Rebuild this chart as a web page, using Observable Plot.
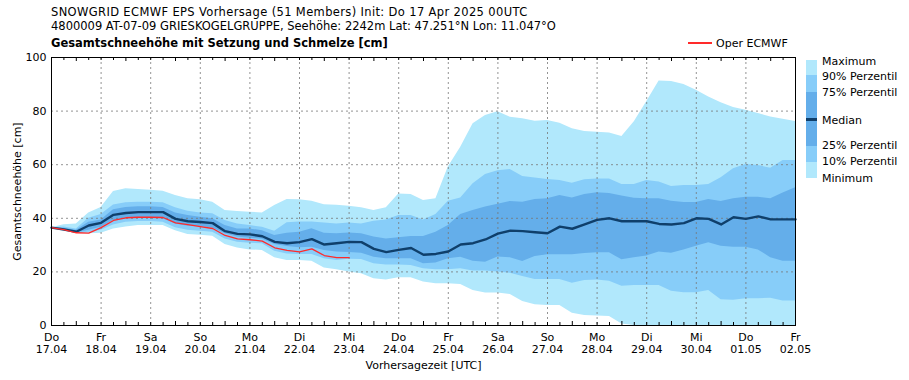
<!DOCTYPE html>
<html>
<head>
<meta charset="utf-8">
<script src="https://cdn.jsdelivr.net/npm/d3@7"></script>
<script src="https://cdn.jsdelivr.net/npm/@observablehq/plot@0.6"></script>
<style>
  body { margin: 0; background: #fff; }
  #wrap { position: relative; width: 909px; height: 380px; font-family: "DejaVu Sans", sans-serif; font-size: 11px; color: #000; }
  #head { position: relative; height: 47px; }
  .t { position: absolute; white-space: nowrap; line-height: 13px; font-size: 11.5px; }
  .b { font-weight: bold; }
  #legend { position: absolute; left: 0; top: 0; width: 909px; height: 380px; pointer-events: none; }
  .seg { position: absolute; left: 806px; width: 11px; }
  .lt { position: absolute; left: 822px; white-space: nowrap; line-height: 13px; font-size: 11px; }
  svg { display: block; }
</style>
</head>
<body>
<div id="wrap">
  <div id="head">
    <div class="t" style="left:51px; top:6px; letter-spacing:0.36px;">SNOWGRID ECMWF EPS Vorhersage (51 Members) Init: Do 17 Apr 2025 00UTC</div>
    <div class="t" style="left:51px; top:20px;">4800009 AT-07-09 GRIESKOGELGRUPPE, Seehöhe: 2242m Lat: 47.251°N Lon: 11.047°O</div>
    <div class="t b" style="left:51px; top:37px;">Gesamtschneehöhe mit Setzung und Schmelze [cm]</div>
    <div style="position:absolute; left:688px; top:42px; width:24px; height:1.5px; background:#ff2a2a;"></div>
    <div class="t" style="left:716px; top:37px; font-size:11px;">Oper ECMWF</div>
  </div>
  <div id="chart"></div>
  <div id="legend"></div>
</div>
<script>
// ---- data (6-hourly steps from 17.04.2025 00 UTC) ----
const initTime = Date.UTC(2025, 3, 17, 0);
const stepHours = 6;

const maxV = [36.5, 37.6, 37.9, 42, 44, 50, 51, 50.7, 50.5, 50.1, 48.5, 47.3, 46.9,
  46, 42.9, 42.5, 42.3, 42, 44.8, 47, 46.9, 46.4, 45.1, 44.9, 44.5,
  43.9, 42.9, 43.9, 49.1, 48.9, 46.6, 47.3, 59.1, 66.5, 75.3, 78.4, 79.8,
  77.7, 77.1, 76.2, 76.5, 75.5, 73.4, 72.4, 72.1, 71.8, 70.5, 76, 83.5,
  91.2, 91, 89.9, 87.8, 85.3, 83.1, 81.3, 80.3, 79.1, 77.8, 77, 76.1];
const p90 = [36.5, 36.8, 36, 40, 41.4, 45, 45.8, 46, 46, 45.8, 43.9, 42.6, 42,
  41.7, 39.2, 37.9, 37.3, 36.7, 35.2, 38.3, 38.6, 38.6, 38.2, 37.9, 38.2,
  37.9, 38.9, 39.4, 41, 41, 39.4, 41.4, 46.4, 47.6, 52.9, 56.3, 57.7,
  58.2, 55.6, 55, 54.5, 54.1, 53.1, 54.4, 54.7, 54.7, 52.6, 52.6, 54.1,
  53.5, 51.9, 52.2, 52.2, 52.6, 55.1, 58.5, 60.1, 59.7, 58.7, 61.6, 61.6];
const p75 = [36.5, 36.3, 35.5, 38.5, 39.4, 43.2, 44, 44.3, 44.3, 44, 42, 41, 40.4,
  39.8, 37.3, 36, 36, 35.4, 33.6, 34.4, 34.8, 36.1, 34.4, 34.2, 34.5,
  34.2, 33, 32.3, 32.7, 33.2, 33.2, 34.8, 37.3, 41.4, 42.9, 44.2, 45.2,
  46.3, 46, 47, 47.3, 48.5, 47.6, 48.9, 49.5, 49.3, 48.3, 47.5, 47.3,
  47.3, 46.4, 45.9, 45.9, 47, 46.3, 47.3, 47.9, 47.9, 47.3, 49.4, 51.4];
const median = [36.5, 35.8, 35, 37.3, 38.3, 41.3, 42, 42.3, 42.3, 42.3, 39.8, 38.9, 38.6,
  38.2, 35.2, 34.2, 34, 33.3, 31.2, 30.7, 31.1, 32.2, 30.2, 30.7, 31.2,
  31.1, 28.6, 27.4, 28.2, 28.9, 26.4, 26.7, 27.6, 30.2, 30.7, 32.1, 34.3,
  35.4, 35.2, 34.8, 34.4, 36.9, 36.1, 37.7, 39.4, 40, 38.9, 38.9, 38.9,
  37.9, 37.7, 38.2, 40, 39.8, 37.7, 40.4, 39.8, 40.7, 39.6, 39.6, 39.6];
const p25 = [36.5, 35.6, 34.5, 35.5, 36.7, 39.2, 39.8, 40, 40, 39.8, 37.9, 37, 36.9,
  36.4, 34.2, 33, 32.6, 32.2, 30.2, 29.5, 29, 29.2, 28, 27.4, 27.2,
  27, 25.5, 24.9, 24.9, 24.9, 23, 23.3, 24.9, 25.5, 24, 23.6, 25.6,
  25.3, 23.9, 25.7, 26.4, 26.4, 26.4, 26.9, 27.1, 27.1, 24.5, 25.3, 25.9,
  27.4, 27, 28.2, 29.6, 30.9, 29.6, 29.2, 29.2, 28.2, 25.3, 24, 24];
const p10 = [36.5, 35.5, 34.3, 34.8, 35.5, 37.5, 38.5, 38.8, 38.8, 38.5, 36.5, 35.5, 35.2,
  34.8, 32.3, 31.1, 30.7, 30.5, 27.7, 26.7, 26.5, 26.5, 24.9, 24.3, 24.7,
  24.6, 23, 22.6, 22.6, 22.4, 21.2, 20.8, 20.8, 21.2, 20.3, 20.3, 20,
  19.5, 18.3, 17.2, 17.2, 17.2, 15.8, 16.8, 17, 16.5, 14.6, 14.9, 14.9,
  14.9, 12.8, 12.2, 12.2, 13.1, 9.6, 9.4, 10, 10, 10.2, 9.1, 9.1];
const minV = [36.5, 35.5, 34.3, 34.2, 34.4, 36, 36.8, 37.3, 37.3, 37.3, 35.4, 34, 33.7,
  33.3, 30.2, 28.9, 28.2, 28, 25.3, 24.3, 24.3, 24, 21.5, 20.8, 20,
  19.3, 17.4, 17, 17.8, 17.8, 16.2, 15.6, 15.6, 15.3, 13.1, 12.1, 12.1,
  11.6, 9, 7.7, 7.5, 7.5, 4.6, 3.7, 3.5, 3.4, 0.6, 0, 0,
  0, 0, 0, 0, 0, 0, 0, 0, 0, 0, 0, 0];
const oper = [36.5, 35.8, 34.6, 34.5, 36.5, 39.2, 40.2, 40.4, 40.4, 40.3, 38.3, 37.6, 36.9,
  36.2, 33.6, 32.3, 32, 31.5, 29, 28, 27.5, 28.6, 26.1, 25.3, 25.3];

const dayTickLabels = ["Do\n17.04", "Fr\n18.04", "Sa\n19.04", "So\n20.04", "Mo\n21.04", "Di\n22.04",
  "Mi\n23.04", "Do\n24.04", "Fr\n25.04", "Sa\n26.04", "So\n27.04", "Mo\n28.04", "Di\n29.04",
  "Mi\n30.04", "Do\n01.05", "Fr\n02.05"];
const yTicks = [0, 20, 40, 60, 80, 100];

const legendLabels = ["Maximum", "90% Perzentil", "75% Perzentil", "Median", "25% Perzentil", "10% Perzentil", "Minimum"];

// colours
const cOuter = "#b1e8fc", cMid = "#87cdf9", cInner = "#64aeea", cMedian = "#0f3f6b", cOper = "#ff2a2a";

// ---- table ----
const toDate = (i) => new Date(initTime + i * stepHours * 3600e3);
const rows = maxV.map((v, i) => ({
  t: toDate(i), max: v, p90: p90[i], p75: p75[i], med: median[i], p25: p25[i], p10: p10[i], min: minV[i]
}));
const operRows = oper.map((v, i) => ({ t: toDate(i), v }));
const dayDates = dayTickLabels.map((_, k) => new Date(initTime + k * 24 * 3600e3));
const labelByTime = new Map(dayDates.map((d, k) => [+d, dayTickLabels[k]]));
const midDays = dayDates.slice(1, -1);
const ticks12 = rows.map(r => r.t).filter(d => d.getUTCHours() === 12);
const ticksOther = rows.map(r => r.t).filter(d => d.getUTCHours() !== 12);

const plotH = 333, mTop = 10, mBottom = 55;
const inner = plotH - mTop - mBottom;

const chart = Plot.plot({
  width: 909,
  height: plotH,
  marginTop: mTop,
  marginBottom: mBottom,
  marginLeft: 51,
  marginRight: 114,
  style: { fontFamily: '"DejaVu Sans", sans-serif', fontSize: "11px", color: "#000", background: "#fff" },
  x: { type: "utc", domain: [dayDates[0], dayDates[dayDates.length - 1]] },
  y: { domain: [0, 100] },
  marks: [
    Plot.areaY(rows, { x: "t", y1: "min", y2: "max", fill: cOuter }),
    Plot.areaY(rows, { x: "t", y1: "p10", y2: "p90", fill: cMid }),
    Plot.areaY(rows, { x: "t", y1: "p25", y2: "p75", fill: cInner }),
    Plot.gridY({ ticks: [20, 40, 60, 80], stroke: "#777", strokeOpacity: 1, strokeDasharray: "2,3", strokeWidth: 0.8 }),
    Plot.gridX({ ticks: midDays, stroke: "#777", strokeOpacity: 1, strokeDasharray: "2,3", strokeWidth: 0.8 }),
    Plot.lineY(rows, { x: "t", y: "med", stroke: cMedian, strokeWidth: 2.4 }),
    Plot.lineY(operRows, { x: "t", y: "v", stroke: cOper, strokeWidth: 1.3 }),
    Plot.tickX(ticks12, { x: d => d, insetTop: inner - 4, stroke: "#000" }),
    Plot.tickX(ticksOther, { x: d => d, insetTop: inner - 3, stroke: "#000" }),
    Plot.tickX(ticks12, { x: d => d, insetBottom: inner - 4, stroke: "#000" }),
    Plot.tickX(ticksOther, { x: d => d, insetBottom: inner - 3, stroke: "#000" }),
    Plot.frame({ stroke: "#000", strokeWidth: 1 }),
    Plot.axisY({ ticks: yTicks, tickSize: 0, tickPadding: 5, label: "Gesamtschneehöhe [cm]", labelAnchor: "center", labelOffset: 38, labelArrow: false }),
    Plot.axisX({ ticks: dayDates, tickSize: 0, tickPadding: 7, tickFormat: d => labelByTime.get(+d), lineHeight: 1.1, label: "Vorhersagezeit [UTC]", labelAnchor: "center", labelOffset: 43, labelArrow: false })
  ]
});
document.getElementById("chart").appendChild(chart);

// ---- legend (right side) ----
const lg = document.getElementById("legend");
const segs = [[60, 75, cOuter], [75, 92, cMid], [92, 146, cInner], [146, 162, cMid], [162, 178, cOuter]];
for (const [a, b, c] of segs) {
  const d = document.createElement("div");
  d.className = "seg"; d.style.top = a + "px"; d.style.height = (b - a) + "px"; d.style.background = c;
  lg.appendChild(d);
}
const ml = document.createElement("div");
ml.className = "seg"; ml.style.top = "118px"; ml.style.height = "2.5px"; ml.style.background = cMedian;
lg.appendChild(ml);
const centers = [61, 76, 92, 120, 145, 161, 178];
legendLabels.forEach((s, k) => {
  const d = document.createElement("div");
  d.className = "lt"; d.textContent = s; d.style.top = (centers[k] - 6.5) + "px";
  lg.appendChild(d);
});
</script>
</body>
</html>
